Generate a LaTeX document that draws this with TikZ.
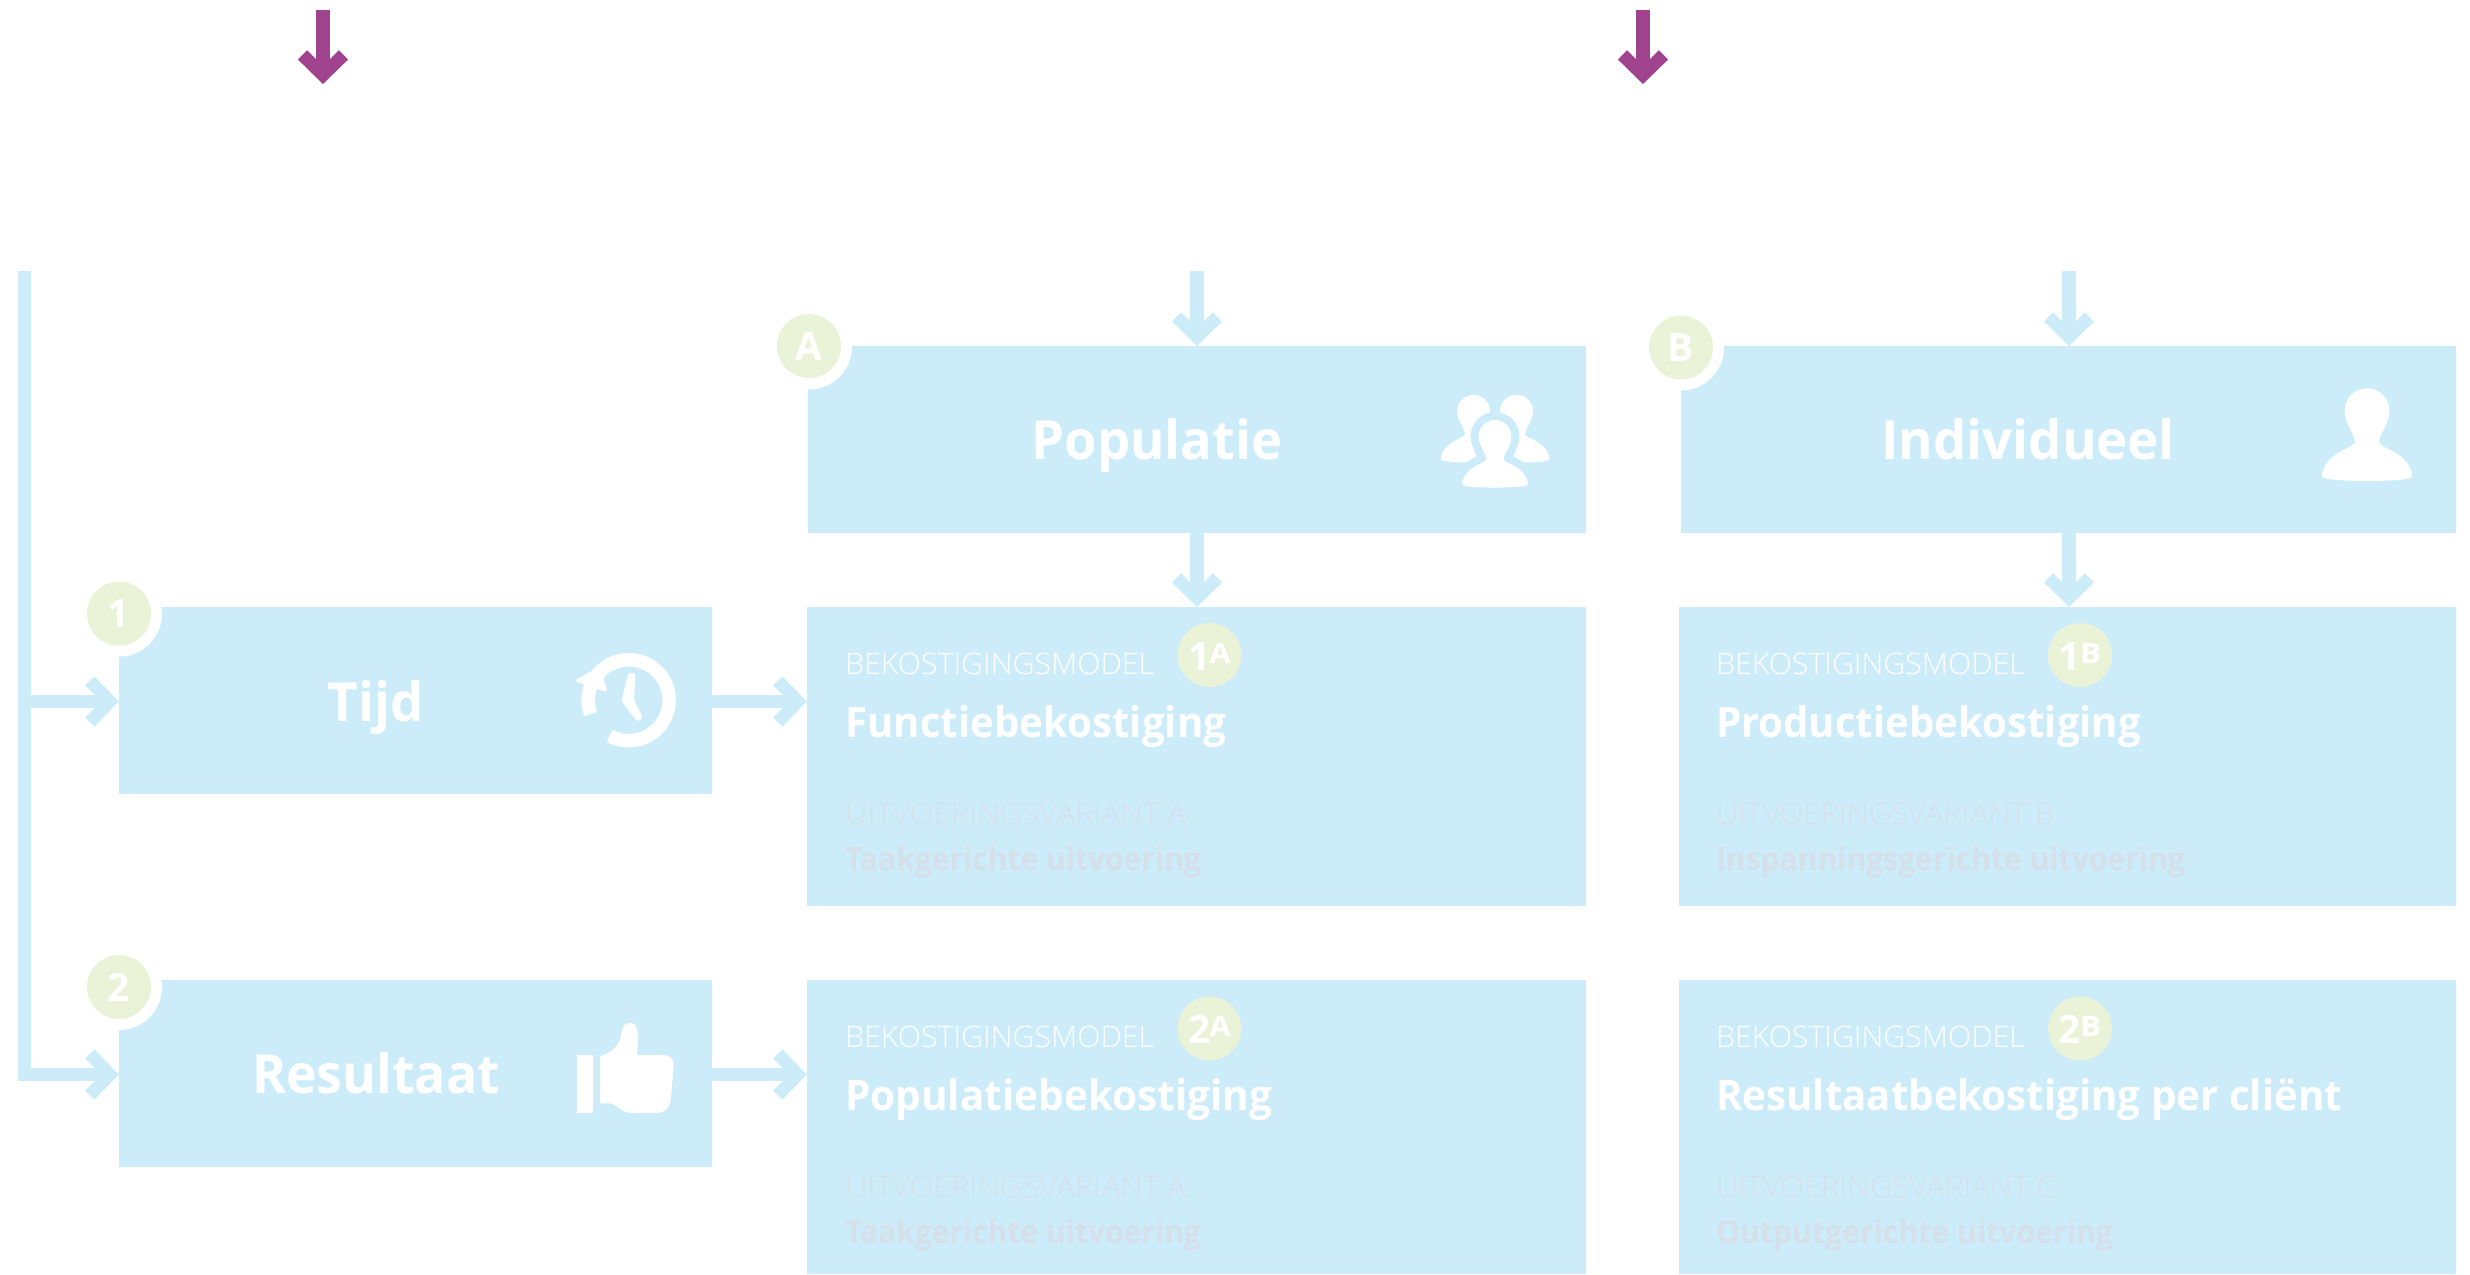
\documentclass[tikz,border=0pt]{standalone}
\usepackage{fontspec}
\usepackage{graphicx}
\usetikzlibrary{arrows.meta}
\setmainfont{Open Sans}
\newfontfamily\lightfont{Open Sans Light}
\definecolor{boxblue}{HTML}{CCECFA}
\definecolor{badgegreen}{HTML}{EAF2D8}
\definecolor{dimtext}{HTML}{D6E0EB}
\definecolor{plum}{HTML}{A0438E}
\newcommand{\fitw}[2]{\resizebox{#1pt}{\height}{#2}}
\tikzset{
  bx/.style={fill=boxblue,draw=none,inner sep=0pt,outer sep=0pt},
  flow/.style={draw=boxblue,line width=13.5pt,line join=miter,-{Straight Barb[length=20pt,width=41pt,line width=13pt]}},
  purpleflow/.style={flow,draw=plum},
  notch/.style={circle,fill=white,draw=none,minimum size=86pt,inner sep=0pt},
  badge/.style={circle,fill=badgegreen,draw=none,minimum size=64pt,inner sep=0pt,text=white,font=\fontsize{39}{39}\selectfont\bfseries},
  txt/.style={inner sep=0pt,outer sep=0pt,anchor=base west},
  head/.style={txt,text=white,font=\fontsize{54}{54}\selectfont\bfseries},
  capw/.style={txt,text=white,font=\fontsize{29.5}{30}\selectfont\lightfont},
  capd/.style={txt,text=dimtext,font=\fontsize{29.5}{30}\selectfont\lightfont},
  titl/.style={txt,text=white,font=\fontsize{42}{42}\selectfont\bfseries},
  subt/.style={txt,text=dimtext,font=\fontsize{32}{32}\selectfont\bfseries},
  icon/.style={fill=white,draw=none},
}
\newcommand{\personpath}{(0,-46.7) .. controls (13,-46.7) and (22.5,-36) .. (22.5,-24) .. controls (22.5,-12) and (12,0) .. (12,6.5) .. controls (12,14) and (38,14) .. (45,38.5) .. controls (45.5,42) and (44,43) .. (40,43.8) .. controls (25,46.7) and (-25,46.7) .. (-40,43.8) .. controls (-44,43) and (-45.5,42) .. (-45,38.5) .. controls (-38,14) and (-12,14) .. (-12,6.5) .. controls (-12,0) and (-22.5,-12) .. (-22.5,-24) .. controls (-22.5,-36) and (-13,-46.7) .. (0,-46.7) -- cycle}
\newcommand{\ba}[1]{\raisebox{-14pt}[10pt][10pt]{\hbox{\bfseries #1}}}
\newcommand{\bb}[2]{\raisebox{-15pt}[10pt][10pt]{\hbox{\bfseries #1\kern-1pt\smash{\raisebox{7pt}{\fontsize{28}{28}\selectfont\bfseries\fitw{21}{#2}}}}}}
\begin{document}
\begin{tikzpicture}[x=1pt,y=-1pt]
\useasboundingbox (0,0) rectangle (2470,1274);
% boxes
\node[bx,minimum width=593pt,minimum height=187pt] (tijd) at (415.5,700.5) {};
\node[bx,minimum width=593pt,minimum height=187pt] (res) at (415.5,1073.5) {};
\node[bx,minimum width=777.5pt,minimum height=187pt] (pop) at (1196.75,439.5) {};
\node[bx,minimum width=775pt,minimum height=187pt] (ind) at (2068.5,439.5) {};
\node[bx,minimum width=778.5pt,minimum height=299pt] (ma) at (1196.25,756.5) {};
\node[bx,minimum width=777.5pt,minimum height=299pt] (mb) at (2067.25,756.5) {};
\node[bx,minimum width=778.5pt,minimum height=294pt] (mc) at (1196.25,1127) {};
\node[bx,minimum width=777.5pt,minimum height=294pt] (md) at (2067.25,1127) {};
% notches and corner badges
\node[notch] at (119,613.6) {};
\node[notch] at (119,987) {};
\node[notch] at (809,346.5) {};
\node[notch] at (1681,347.5) {};
\node[badge] (b1) at (119,613.6) {\ba{1}};
\node[badge] (b2) at (119,987) {\ba{2}};
\node[badge] (bA) at (809,346) {\ba{A}};
\node[badge] (bB) at (1681,347.5) {\ba{B}};
\node[badge] (b1A) at (1209.5,655) {\bb{1}{A}};
\node[badge] (b1B) at (2080,655) {\bb{1}{B}};
\node[badge] (b2A) at (1209.5,1028.5) {\bb{2}{A}};
\node[badge] (b2B) at (2080,1028.5) {\bb{2}{B}};
% connector free ends
\coordinate (p1) at (323,10);
\coordinate (p1e) at (323,84);
\coordinate (p2) at (1643,10);
\coordinate (p2e) at (1643,84);
\coordinate (topA) at (1197,271);
\coordinate (topB) at (2069,271);
\coordinate (left) at (24.25,271);
\coordinate (leftA) at (24.25,701.5);
% connectors
\draw[purpleflow] (p1) -- (p1e);
\draw[purpleflow] (p2) -- (p2e);
\draw[flow] (topA) -- (topA |- pop.north);
\draw[flow] (topB) -- (topB |- ind.north);
\draw[flow] (topA |- pop.south) -- (topA |- ma.north);
\draw[flow] (topB |- ind.south) -- (topB |- mb.north);
\draw[flow] (left) -- (24.25,1074.5) -- ([yshift=-1pt]res.west);
\draw[flow] (leftA) -- ([yshift=-1pt]tijd.west);
\draw[flow] ([yshift=-1pt]tijd.east) -- ([yshift=-1pt]tijd.east -| ma.west);
\draw[flow] ([yshift=-1pt]res.east) -- ([yshift=-1pt]res.east -| mc.west);
% headings
\node[head] (tTijd) at (327.5,721) {\fitw{96}{Tijd}};
\node[head] (tRes) at (252,1093.7) {\fitw{248}{Resultaat}};
\node[head] (tPop) at (1031.5,459.6) {\fitw{251}{Populatie}};
\node[head] (tInd) at (1881,459) {\fitw{294}{Individueel}};
% model 1A
\node[capw] (a1) at (845.2,674.6) {\fitw{309}{BEKOSTIGINGSMODEL}};
\node[titl] (a2) at (845.2,737) {\fitw{381}{Functiebekostiging}};
\node[capd] (a3) at (845.2,824) {\fitw{341}{UITVOERINGSVARIANT A}};
\node[subt] (a4) at (845,870) {\fitw{356}{Taakgerichte uitvoering}};
% model 1B
\node[capw] (b1t) at (1716,674.6) {\fitw{309}{BEKOSTIGINGSMODEL}};
\node[titl] (b2t) at (1716,737) {\fitw{425}{Productiebekostiging}};
\node[capd] (b3t) at (1716,824) {\fitw{338}{UITVOERINGSVARIANT B}};
\node[subt] (b4t) at (1716,870) {\fitw{469}{Inspanningsgerichte uitvoering}};
% model 2A
\node[capw] (c1) at (845.2,1047.6) {\fitw{309}{BEKOSTIGINGSMODEL}};
\node[titl] (c2) at (845.2,1110) {\fitw{427}{Populatiebekostiging}};
\node[capd] (c3) at (845.2,1197) {\fitw{341}{UITVOERINGSVARIANT A}};
\node[subt] (c4) at (845,1243) {\fitw{356}{Taakgerichte uitvoering}};
% model 2B
\node[capw] (d1) at (1716,1047.6) {\fitw{309}{BEKOSTIGINGSMODEL}};
\node[titl] (d2) at (1716,1110) {\fitw{626}{Resultaatbekostiging per cliënt}};
\node[capd] (d3) at (1716,1197) {\fitw{340}{UITVOERINGSVARIANT C}};
\node[subt] (d4) at (1716,1243) {\fitw{397}{Outputgerichte uitvoering}};
% clock icon
\draw[white,line width=13.5pt] (628.7,700.2) ++(118:40.5) arc[start angle=118,end angle=-200,radius=40.5];
\fill[icon,rounded corners=3pt] (574,680.7) -- (600,666.5) -- (607.5,692.5) -- cycle;
\fill[icon,rounded corners=3pt] (628.3,673) -- (635.5,673) -- (634,700) -- (643,718) -- (637.5,722) -- (621.5,701) -- cycle;
% thumb icon
\fill[icon] (577,1055) rectangle (593,1113);
\fill[icon] (600,1056.3) .. controls (612,1052) and (618,1046) .. (620,1040) .. controls (622,1032) and (622,1022.7) .. (629.7,1022.7) .. controls (637,1022.7) and (638.5,1032) .. (638,1040) -- (637,1055) -- (662,1055) .. controls (670,1055) and (674,1058) .. (673.6,1066) -- (671,1098) .. controls (670,1108) and (665,1113) .. (655,1113) -- (632,1113) .. controls (620,1113) and (618,1103.3) .. (608,1103.3) -- (600,1103.3) -- cycle;
% person icon
\fill[icon,shift={(2367,435)}] \personpath;
% people icon
\fill[icon,shift={(1473.6,429)},scale=.73] \personpath;
\fill[icon,shift={(1516.5,429)},scale=.73] \personpath;
\draw[draw=boxblue,line width=16pt,line join=round,shift={(1495,454)},scale=.73] \personpath;
\fill[icon,shift={(1495,454)},scale=.73] \personpath;
\end{tikzpicture}
\end{document}
